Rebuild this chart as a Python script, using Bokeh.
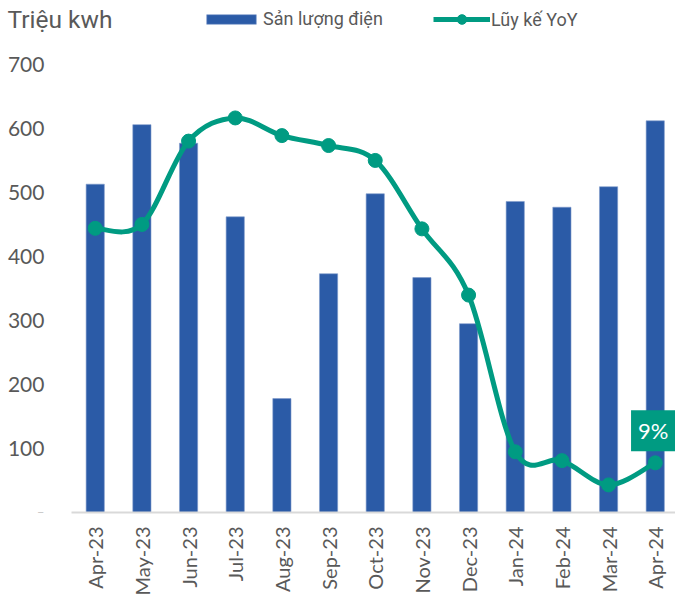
import math
from bokeh.plotting import figure
from bokeh.models import Range1d, FixedTicker, Label, Legend, LegendItem
from bokeh.embed import file_html
from bokeh.resources import INLINE

# ---- data ----
months = ["Apr-23", "May-23", "Jun-23", "Jul-23", "Aug-23", "Sep-23", "Oct-23",
          "Nov-23", "Dec-23", "Jan-24", "Feb-24", "Mar-24", "Apr-24"]
production = [513, 606, 577, 462, 178, 373, 498, 367, 295, 486, 477, 509, 612]
yoy_pct = [51.5, 52.2, 67.3, 71.5, 68.3, 66.5, 63.8, 51.4, 39.4, 11.0, 9.4, 5.0, 9.0]
y_ticks = [0, 100, 200, 300, 400, 500, 600, 700]
y_tick_labels = ["-", "100", "200", "300", "400", "500", "600", "700"]
unit_title = "Triệu kwh"
series_names = ["Sản lượng điện", "Lũy kế YoY"]

BAR = "#2B5BA7"
TEAL = "#009B82"
GREY = "#595959"

W, H = 675, 598
FB = 512            # frame bottom (px from top)
Y_END = 800
X_START, X_END = -2.03, 12.434
AXIS_X = -0.51      # where the value axis sits (data x)

p = figure(width=W, height=H, output_backend="svg", toolbar_location=None,
           x_range=Range1d(X_START, X_END), y_range=Range1d(0, Y_END),
           min_border_left=0, min_border_right=0, min_border_top=0,
           min_border_bottom=H - FB)
p.extra_y_ranges = {"yoy": Range1d(0, Y_END * yoy_pct[-1] / 77.6)}
p.outline_line_color = None
p.xgrid.visible = False
p.ygrid.visible = False

xs = list(range(len(months)))
bars = p.vbar(x=xs, top=production, width=0.39, fill_color=BAR,
              line_color="#7F9ACB", line_width=0.6)

# smooth line (Catmull-Rom -> cubic Bezier) through the data points
n = len(yoy_pct)
x0, y0, x1, y1, cx0, cy0, cx1, cy1 = [], [], [], [], [], [], [], []
for i in range(n - 1):
    xa, ya = xs[i], yoy_pct[i]
    xb, yb = xs[i + 1], yoy_pct[i + 1]
    xp, yp = (xs[i - 1], yoy_pct[i - 1]) if i > 0 else (xa, ya)
    xn, yn = (xs[i + 2], yoy_pct[i + 2]) if i + 2 < n else (xb, yb)
    x0.append(xa); y0.append(ya); x1.append(xb); y1.append(yb)
    cx0.append(xa + (xb - xp) / 6); cy0.append(ya + (yb - yp) / 6)
    cx1.append(xb - (xn - xa) / 6); cy1.append(yb - (yn - ya) / 6)
curve = p.bezier(x0=x0, y0=y0, x1=x1, y1=y1, cx0=cx0, cy0=cy0, cx1=cx1, cy1=cy1,
                 line_color=TEAL, line_width=5, y_range_name="yoy")
dots = p.scatter(x=xs, y=yoy_pct, size=14, fill_color=TEAL, line_color=TEAL,
                 y_range_name="yoy")

# end label
p.add_layout(Label(x=xs[-1], y=yoy_pct[-1], y_range_name="yoy",
                   text=f"{yoy_pct[-1]:.0f}%", text_align="center",
                   text_baseline="middle", y_offset=32, x_offset=-2,
                   text_color="white", text_font="Lato", text_font_size="22px",
                   background_fill_color=TEAL, padding=7))

# legends (top band of the frame)
common = dict(orientation="horizontal", padding=0, margin=0, spacing=0,
              label_text_font="Roboto", label_text_font_size="18px",
              label_text_color=GREY, border_line_color=None,
              background_fill_alpha=0)
leg1 = Legend(items=[LegendItem(label=series_names[0], renderers=[bars])],
              location=(200, FB - 29), glyph_width=62, glyph_height=12,
              label_height=12, label_standoff=1, **common)
leg2 = Legend(items=[LegendItem(label=series_names[1], renderers=[curve, dots])],
              location=(433, FB - 31), glyph_width=57, glyph_height=24,
              label_height=24, label_standoff=1, **common)
p.add_layout(leg1)
p.add_layout(leg2)

# unit title
p.add_layout(Label(x=7, y=FB - 19, x_units="screen", y_units="screen",
                   text=unit_title, text_font="Roboto", text_font_size="24.5px",
                   text_color=GREY, text_baseline="alphabetic"))

# axes
p.xaxis.bounds = (AXIS_X, X_END)
p.xaxis.ticker = FixedTicker(ticks=xs)
p.xaxis.major_label_overrides = {i: m for i, m in enumerate(months)}
p.xaxis.major_label_orientation = math.pi / 2
p.xaxis.major_label_text_font = "Lato"
p.xaxis.major_label_text_font_size = "20px"
p.xaxis.major_label_text_color = GREY
p.xaxis.major_tick_line_color = None
p.xaxis.major_tick_out = 0
p.xaxis.major_tick_in = 0
p.xaxis.minor_tick_line_color = None
p.xaxis.axis_line_color = "#D9D9D9"
p.xaxis.axis_line_width = 2
p.xaxis.major_label_standoff = 14

p.yaxis.fixed_location = AXIS_X
p.yaxis.ticker = FixedTicker(ticks=y_ticks)
p.yaxis.major_label_overrides = {t: l for t, l in zip(y_ticks, y_tick_labels)}
p.yaxis.major_label_text_font = "Lato"
p.yaxis.major_label_text_font_size = "21px"
p.yaxis.major_label_text_color = GREY
p.yaxis.major_tick_line_color = None
p.yaxis.major_tick_out = 0
p.yaxis.major_tick_in = 0
p.yaxis.minor_tick_line_color = None
p.yaxis.axis_line_color = None
p.yaxis.major_label_standoff = 27

open("out.html", "w").write(file_html(p, INLINE))
